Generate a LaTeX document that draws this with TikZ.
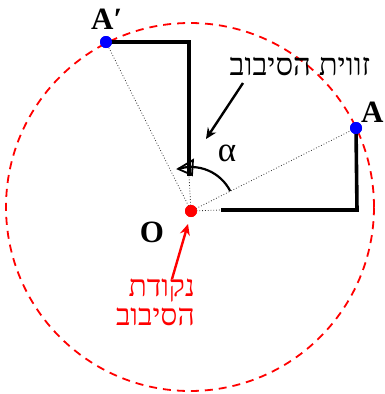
\documentclass[tikz,border=0pt]{standalone}
\usepackage{fontspec}
\setmainfont{Liberation Serif}
\newfontfamily\hebfont[Script=Hebrew]{Liberation Serif}
\TeXXeTstate=1
\usetikzlibrary{arrows.meta,calc}
\begin{document}
\begin{tikzpicture}[x=1pt,y=1pt,
  thickline/.style={line width=3.6pt,line join=miter},
  dotline/.style={line width=0.8pt,dotted,black!80},
  dotbase/.style={circle,inner sep=0pt,minimum size=12pt},
  bluedot/.style={dotbase,fill=blue},
  reddot/.style={dotbase,fill=red},
  biglabel/.style={font=\fontsize{31}{31}\selectfont\bfseries,inner sep=0pt},
  heblabel/.style={font=\hebfont\fontsize{30}{29}\selectfont,inner sep=0pt},
  pointer/.style={line width=2.4pt,-{Stealth[length=11pt,width=10pt]}},
  chevron/.style={line width=1.8pt,line join=miter}]
\useasboundingbox (0,0) rectangle (384,-394);
% circle
\coordinate (C) at (190,-207);
\draw[red,dashed,line width=1.8pt,dash pattern=on 8pt off 6pt] (C) circle[radius=184];
% corner points
\coordinate (Ac) at (357,-210);
\coordinate (Ae) at (221,-210);
\coordinate (Bc) at (189,-42);
\coordinate (Be) at (189,-176);
% dotted construction
\node[reddot] (O) at (191,-211) {};
\node[bluedot] (A) at (356,-128) {};
\node[bluedot] (Ap) at (106,-42) {};
\draw[dotline] (O.center) -- (Ae);
\draw[dotline] (O.center) -- (A.center);
\draw[dotline] (O.center) -- (Ap.center);
\draw[dotline] (O.center) -- (Be);
% thick L-shapes
\draw[thickline] (A.center) -- (Ac) -- (Ae);
\draw[thickline] (Ap.center) -- (Bc) -- (Be);
% redraw dots on top
\node[reddot] at (O) {};
\node[bluedot] at (A) {};
\node[bluedot] at (Ap) {};
% angle arc with open arrowhead
\draw[line width=2.2pt]
  ($(O.center)+(27:44)$) arc[start angle=27,end angle=107,radius=44] coordinate (tip);
\draw[chevron] (193,-160) -- (tip) -- (192,-175) -- cycle;
\node[font=\fontsize{35}{35}\selectfont,inner sep=0pt] (alpha) at (227,-153) {α};
% labels
\node[biglabel,anchor=base west] (Alab) at (361,-122) {A};
\node[biglabel,anchor=base west] (Aplab) at (91,-29) {A′};
\node[biglabel] (Olab) at (152,-232) {O};
\node[heblabel,font=\hebfont\fontsize{31}{31}\selectfont] (rotlab) at (300,-67) {\beginR זווית הסיבוב\endR};
\coordinate (p1) at (243,-83);
\coordinate (p2) at (206,-139);
\draw[pointer] (p1) -- (p2);
\node[heblabel,red,align=right,anchor=east] (ptlab) at (195,-302) {\beginR נקודת\endR\\\beginR הסיבוב\endR};
\coordinate (q1) at (172,-279);
\coordinate (q2) at (188,-224);
\draw[pointer,red] (q1) -- (q2);
\end{tikzpicture}
\end{document}
